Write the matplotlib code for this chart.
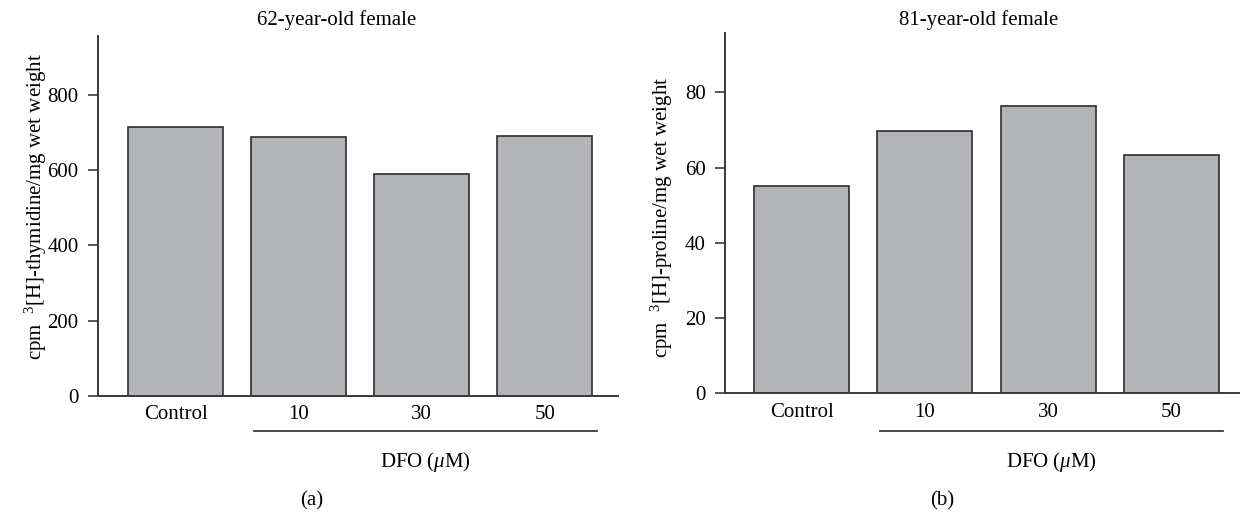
import matplotlib
matplotlib.use("Agg")
import matplotlib.pyplot as plt
import matplotlib.transforms as mtrans

# ---- data ----
categories = ["Control", "10", "30", "50"]
values_a = [715, 687, 590, 690]
values_b = [55.1, 69.6, 76.5, 63.3]
yticks_a = [0, 200, 400, 600, 800]
yticks_b = [0, 20, 40, 60, 80]
title_a = "62-year-old female"
title_b = "81-year-old female"
ylabel_a = r"cpm  $^{3}$[H]-thymidine/mg wet weight"
ylabel_b = r"cpm  $^{3}$[H]-proline/mg wet weight"
group_label = r"DFO ($\mu$M)"

plt.rcParams["font.family"] = ["Liberation Serif", "DejaVu Serif"]
plt.rcParams["mathtext.fontset"] = "custom"
plt.rcParams["mathtext.rm"] = "Liberation Serif"
plt.rcParams["mathtext.it"] = "Liberation Serif:italic"

W, H = 1240, 513
fig = plt.figure(figsize=(W / 100, H / 100), dpi=100)

BAR = "#b3b4b8"
EDGE = "#2e2e2e"
SPINE = "#3a3a3a"
FS = 15


def make_axes(l, r, b, t):
    return fig.add_axes([l / W, (H - b) / H, (r - l) / W, (b - t) / H])


def style(ax, vals, yticks, ylim, xlim, ylabel, labx, laby):
    x = list(range(len(vals)))
    ax.bar(x, vals, width=0.77, color=BAR, edgecolor=EDGE, linewidth=1.2, zorder=2)
    ax.set_xlim(*xlim)
    ax.set_ylim(0, ylim)
    ax.set_yticks(yticks)
    ax.set_xticks(x)
    ax.set_xticklabels(categories, fontsize=FS)
    for s in ["top", "right"]:
        ax.spines[s].set_visible(False)
    for s in ["left", "bottom"]:
        ax.spines[s].set_color(SPINE)
        ax.spines[s].set_linewidth(1.4)
    ax.tick_params(axis="y", direction="out", length=7, width=1.2, color=SPINE,
                   labelsize=FS, pad=7)
    ax.tick_params(axis="x", length=0, labelsize=FS, pad=7)
    ax.set_ylabel(ylabel, fontsize=FS)
    ax.yaxis.set_label_coords(labx, laby)


ax1 = make_axes(98, 618, 395.7, 36)
style(ax1, values_a, yticks_a, 957, (-0.63, 3.594), ylabel_a, -0.094, 0.525)
ax2 = make_axes(725, 1240, 393.3, 33.3)
style(ax2, values_b, yticks_b, 95.7, (-0.621, 3.556), ylabel_b, -0.097, 0.49)

for ax, tx, px_title, px_sub, sub in [(ax1, title_a, 337, 312, "(a)"),
                                       (ax2, title_b, 979, 942, "(b)")]:
    tr = mtrans.blended_transform_factory(ax.transData, fig.transFigure)
    y_line = (H - 431) / H
    ax.plot([0.64, 3.42], [y_line, y_line], transform=tr, color=SPINE,
            linewidth=1.3, clip_on=False)
    ax.text((0.64 + 3.42) / 2, (H - 462) / H, group_label, transform=tr,
            ha="center", va="center", fontsize=FS)
    fig.text(px_title / W, (H - 20) / H, tx, ha="center", va="center", fontsize=FS)
    fig.text(px_sub / W, (H - 501) / H, sub, ha="center", va="center", fontsize=FS)

fig.savefig("out.png", dpi=100)
